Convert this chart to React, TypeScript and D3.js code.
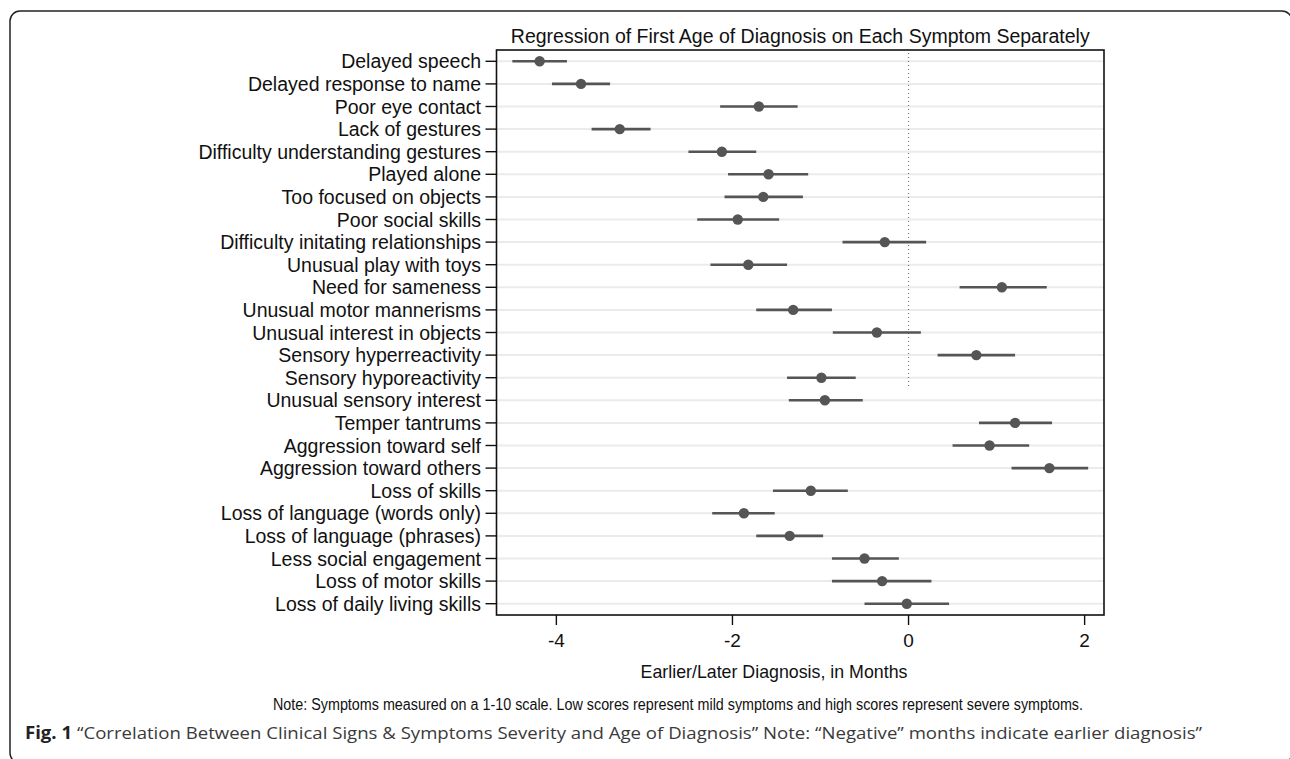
import * as d3 from "d3";

// symptom labels, top to bottom
const symptoms = [
  "Delayed speech",
  "Delayed response to name",
  "Poor eye contact",
  "Lack of gestures",
  "Difficulty understanding gestures",
  "Played alone",
  "Too focused on objects",
  "Poor social skills",
  "Difficulty initating relationships",
  "Unusual play with toys",
  "Need for sameness",
  "Unusual motor mannerisms",
  "Unusual interest in objects",
  "Sensory hyperreactivity",
  "Sensory hyporeactivity",
  "Unusual sensory interest",
  "Temper tantrums",
  "Aggression toward self",
  "Aggression toward others",
  "Loss of skills",
  "Loss of language (words only)",
  "Loss of language (phrases)",
  "Less social engagement",
  "Loss of motor skills",
  "Loss of daily living skills",
];

// point estimates (months)
const estimates = [
  -4.19, -3.72, -1.7, -3.28, -2.12, -1.59, -1.65, -1.94, -0.27, -1.82, 1.06, -1.31, -0.36,
  0.77, -0.99, -0.95, 1.21, 0.92, 1.6, -1.11, -1.87, -1.35, -0.5, -0.3, -0.02,
];
// confidence interval bounds
const lowerCI = [
  -4.5, -4.05, -2.14, -3.6, -2.5, -2.05, -2.09, -2.4, -0.75, -2.25, 0.58, -1.73, -0.86,
  0.33, -1.38, -1.36, 0.8, 0.5, 1.17, -1.54, -2.23, -1.73, -0.87, -0.87, -0.5,
];
const upperCI = [
  -3.88, -3.39, -1.26, -2.93, -1.73, -1.14, -1.2, -1.47, 0.2, -1.38, 1.57, -0.87, 0.14,
  1.21, -0.6, -0.52, 1.63, 1.37, 2.04, -0.69, -1.52, -0.97, -0.11, 0.26, 0.46,
];

const xTicks = [-4, -2, 0, 2];
const xDomain = [-4.68, 2.22];

const chartTitle = "Regression of First Age of Diagnosis on Each Symptom Separately";
const xTitle = "Earlier/Later Diagnosis, in Months";
const noteText =
  "Note: Symptoms measured on a 1-10 scale. Low scores represent mild symptoms and high scores represent severe symptoms.";
const figLabel = "Fig. 1";
const captionText =
  " \u201cCorrelation Between Clinical Signs & Symptoms Severity and Age of Diagnosis\u201d Note: \u201cNegative\u201d months indicate earlier diagnosis\u201d";

const W = 1290;
const H = 759;
const plot = { left: 496.5, right: 1104, top: 50, bottom: 615 };

export default function App() {
  const x = d3.scaleLinear().domain(xDomain).range([plot.left, plot.right]);
  const y = d3
    .scalePoint<string>()
    .domain(symptoms)
    .range([plot.top, plot.bottom])
    .padding(0.5);

  const rows = symptoms.map((s, i) => ({
    name: s,
    est: estimates[i],
    lo: lowerCI[i],
    hi: upperCI[i],
  }));

  // zero reference line stops partway down (as in the original figure)
  const zeroEnd = (y(symptoms[14])! + y(symptoms[15])!) / 2;

  const font = "'Liberation Sans', Arial, Helvetica, sans-serif";

  return (
    <svg
      width={W}
      height={H}
      style={{ position: "absolute", left: 0, top: 0, background: "#fff" }}
    >
      <rect x={0} y={0} width={W} height={H} fill="#fff" />
      {/* outer figure box */}
      <rect x={10} y={11} width={1282} height={752} rx={10} fill="none" stroke="#222" strokeWidth={1.5} />

      <text x={(plot.left + plot.right) / 2} y={36} textAnchor="middle" dominantBaseline="central" fontFamily={font} fontSize={19.5} fill="#111">
        {chartTitle}
      </text>

      {/* row grid lines */}
      {rows.map((r) => (
        <line key={"g" + r.name} x1={plot.left} x2={plot.right} y1={y(r.name)} y2={y(r.name)} stroke="#ebebeb" strokeWidth={2} />
      ))}

      {/* zero line */}
      <line
        x1={x(0)}
        x2={x(0)}
        y1={plot.top + 3}
        y2={zeroEnd}
        stroke="#777"
        strokeWidth={1.2}
        strokeDasharray="1 3"
      />

      {/* CIs and points */}
      {rows.map((r) => (
        <g key={"m" + r.name}>
          <line x1={x(r.lo)} x2={x(r.hi)} y1={y(r.name)} y2={y(r.name)} stroke="#555" strokeWidth={2.6} />
          <circle cx={x(r.est)} cy={y(r.name)} r={5.2} fill="#555" />
        </g>
      ))}

      {/* frame */}
      <rect x={plot.left} y={plot.top} width={plot.right - plot.left} height={plot.bottom - plot.top} fill="none" stroke="#111" strokeWidth={1.6} />

      {/* y axis labels + ticks */}
      {rows.map((r) => (
        <g key={"l" + r.name}>
          <line x1={plot.left - 11} x2={plot.left} y1={y(r.name)} y2={y(r.name)} stroke="#111" strokeWidth={1.4} />
          <text x={481} y={y(r.name)} dy="0.36em" textAnchor="end" fontFamily={font} fontSize={19.5} fill="#111">
            {r.name}
          </text>
        </g>
      ))}

      {/* x axis ticks */}
      {xTicks.map((t) => (
        <g key={"t" + t}>
          <line x1={x(t)} x2={x(t)} y1={plot.bottom} y2={plot.bottom + 10} stroke="#111" strokeWidth={1.4} />
          <text x={x(t)} y={640} dy="0.36em" textAnchor="middle" fontFamily={font} fontSize={19} fill="#111">
            {t}
          </text>
        </g>
      ))}

      <text x={774} y={672} dy="0.36em" textAnchor="middle" fontFamily={font} fontSize={17.8} fill="#111">
        {xTitle}
      </text>

      <text
        x={678}
        y={704}
        dy="0.36em"
        textAnchor="middle"
        fontFamily="'Liberation Sans Narrow', 'Arial Narrow', 'Liberation Sans', sans-serif"
        fontSize={16}
        fill="#111"
        textLength={810}
        lengthAdjust="spacingAndGlyphs"
      >
        {noteText}
      </text>

      <text
        x={25}
        y={733}
        dy="0.36em"
        fontFamily="'Open Sans', 'Noto Sans', sans-serif"
        fontSize={17}
        fill="#3a3a3a"
        textLength={1177}
        lengthAdjust="spacingAndGlyphs"
      >
        <tspan fontWeight="bold" fill="#222">{figLabel}</tspan>
        <tspan>{captionText}</tspan>
      </text>
    </svg>
  );
}
